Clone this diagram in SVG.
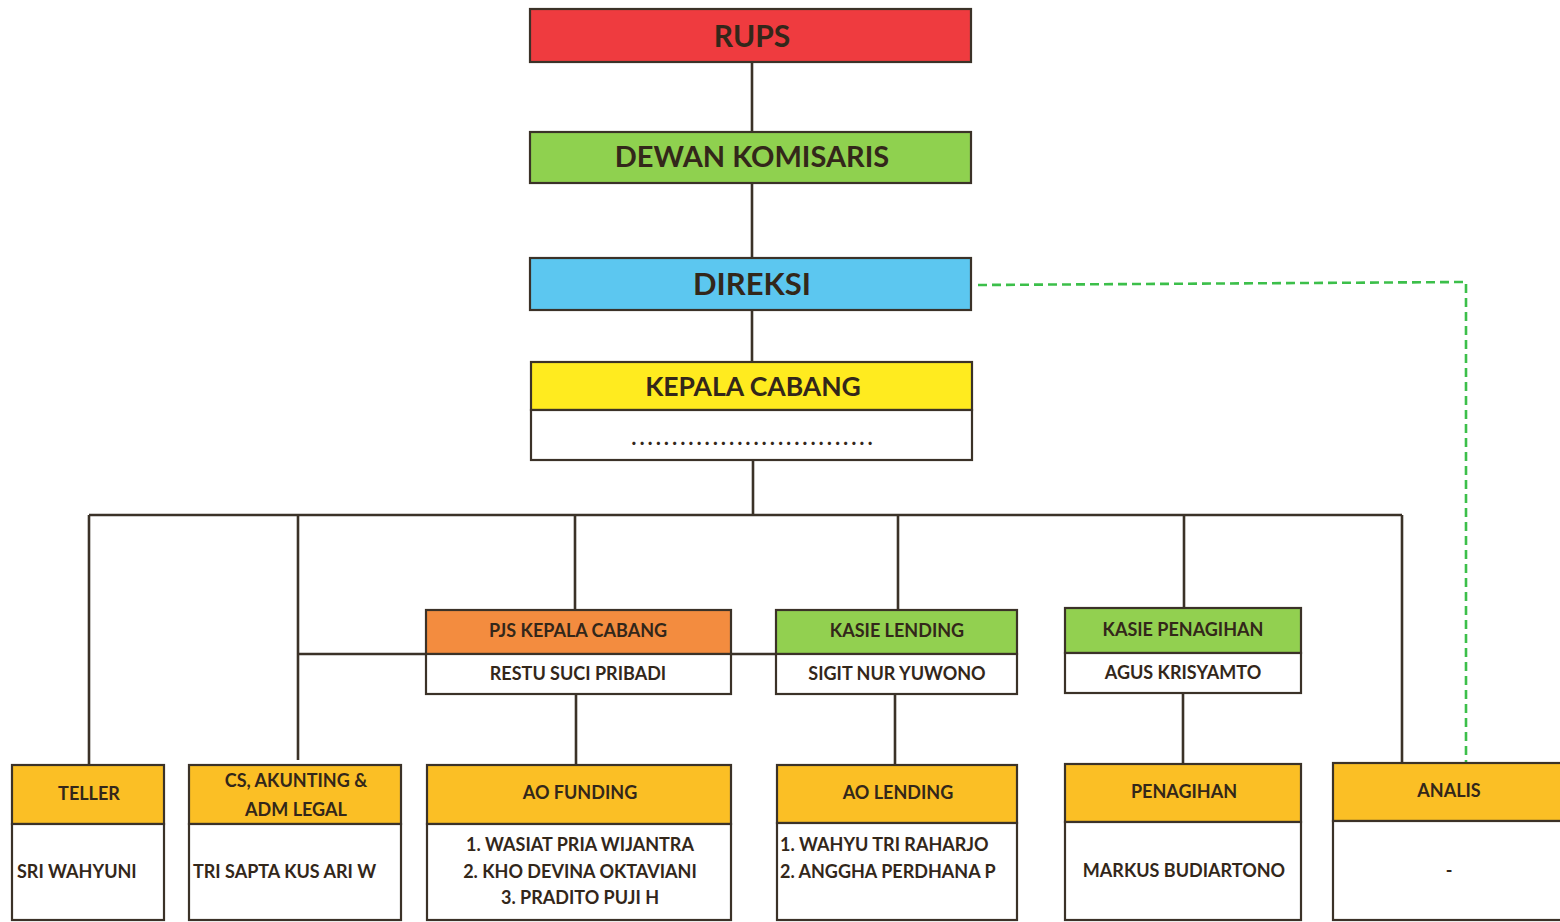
<svg xmlns="http://www.w3.org/2000/svg" width="1560" height="922" viewBox="0 0 1560 922">
<style>
.b{stroke:#3b3228;stroke-width:2.2}
.ln{stroke:#3b3228;stroke-width:2.6;fill:none}
.dash{stroke:#3cbf4a;stroke-width:2.6;fill:none;stroke-dasharray:9 5}
text{font-family:Lato,"Open Sans","Liberation Sans",sans-serif;font-weight:bold;fill:#33271a}
.c{text-anchor:middle}
.sm{font-size:18px}
.red{fill:#ef3b3f}.grn{fill:#8fd14f}.blu{fill:#5cc7f0}.yel{fill:#ffeb1f}.org{fill:#f38c3f}.kg{fill:#92d050}.gold{fill:#fbbf25}.wh{fill:#ffffff}
</style>
<rect width="1560" height="922" fill="#ffffff"/>
<g id="connectors">
<path class="ln" d="M752 62V132M752 183V258M752 310V362M753 460V515M89 515H1402M89 515V765M298 515V760M575 515V610M898 515V610M1184 515V608M1402 515V763M298 654H426M731 654H776M576 694V765M895 694V765M1183 693V764"/>
<path class="dash" d="M978 285L1466 282V762"/>
</g>
<g id="rups">
<rect class="b red" x="530" y="9" width="441" height="53"/>
<text class="c" style="font-size:30px" x="752" y="47">RUPS</text>
</g>
<g id="dewan-komisaris">
<rect class="b grn" x="530" y="132" width="441" height="51"/>
<text class="c" style="font-size:29px" x="752" y="167">DEWAN KOMISARIS</text>
</g>
<g id="direksi">
<rect class="b blu" x="530" y="258" width="441" height="52"/>
<text class="c" style="font-size:31px" x="752" y="295">DIREKSI</text>
</g>
<g id="kepala-cabang">
<rect class="b yel" x="531" y="362" width="441" height="48"/>
<rect class="b wh" x="531" y="410" width="441" height="50"/>
<text class="c" style="font-size:26.5px" x="753" y="396">KEPALA CABANG</text>
<text class="c" style="font-size:20px;font-weight:900" x="752" y="445" textLength="241" lengthAdjust="spacing">..............................</text>
</g>
<g id="pjs-kepala-cabang">
<rect class="b org" x="426" y="610" width="305" height="44"/>
<rect class="b wh" x="426" y="654" width="305" height="40"/>
<text class="c sm" x="578" y="637">PJS KEPALA CABANG</text>
<text class="c sm" x="578" y="680">RESTU SUCI PRIBADI</text>
</g>
<g id="kasie-lending">
<rect class="b kg" x="776" y="610" width="241" height="44"/>
<rect class="b wh" x="776" y="654" width="241" height="40"/>
<text class="c sm" x="897" y="637">KASIE LENDING</text>
<text class="c sm" x="897" y="680">SIGIT NUR YUWONO</text>
</g>
<g id="kasie-penagihan">
<rect class="b kg" x="1065" y="608" width="236" height="45"/>
<rect class="b wh" x="1065" y="653" width="236" height="40"/>
<text class="c sm" x="1183" y="636">KASIE PENAGIHAN</text>
<text class="c sm" x="1183" y="679">AGUS KRISYAMTO</text>
</g>
<g id="teller">
<rect class="b gold" x="12" y="765" width="152" height="59"/>
<rect class="b wh" x="12" y="824" width="152" height="96"/>
<text class="c sm" x="89" y="800">TELLER</text>
<text class="sm" x="17" y="878">SRI WAHYUNI</text>
</g>
<g id="cs-akunting">
<rect class="b gold" x="189" y="765" width="212" height="59"/>
<rect class="b wh" x="189" y="824" width="212" height="96"/>
<text class="c sm" x="296" y="787">CS, AKUNTING &amp;</text>
<text class="c sm" x="296" y="816">ADM LEGAL</text>
<text class="sm" x="193" y="878">TRI SAPTA KUS ARI W</text>
</g>
<g id="ao-funding">
<rect class="b gold" x="427" y="765" width="304" height="59"/>
<rect class="b wh" x="427" y="824" width="304" height="96"/>
<text class="c sm" x="580" y="799">AO FUNDING</text>
<text class="c sm" x="580" y="851">1. WASIAT PRIA WIJANTRA</text>
<text class="c sm" x="580" y="878">2. KHO DEVINA OKTAVIANI</text>
<text class="c sm" x="580" y="904">3. PRADITO PUJI H</text>
</g>
<g id="ao-lending">
<rect class="b gold" x="777" y="765" width="240" height="58"/>
<rect class="b wh" x="777" y="823" width="240" height="97"/>
<text class="c sm" x="898" y="799">AO LENDING</text>
<text class="sm" x="780" y="851">1. WAHYU TRI RAHARJO</text>
<text class="sm" x="780" y="878">2. ANGGHA PERDHANA P</text>
</g>
<g id="penagihan">
<rect class="b gold" x="1065" y="764" width="236" height="58"/>
<rect class="b wh" x="1065" y="822" width="236" height="98"/>
<text class="c sm" x="1184" y="798">PENAGIHAN</text>
<text class="c sm" x="1184" y="877">MARKUS BUDIARTONO</text>
</g>
<g id="analis">
<rect class="b gold" x="1333" y="763" width="230" height="58"/>
<rect class="b wh" x="1333" y="821" width="230" height="99"/>
<text class="c sm" x="1449" y="797">ANALIS</text>
<text class="c sm" x="1449" y="877">-</text>
</g>
</svg>
